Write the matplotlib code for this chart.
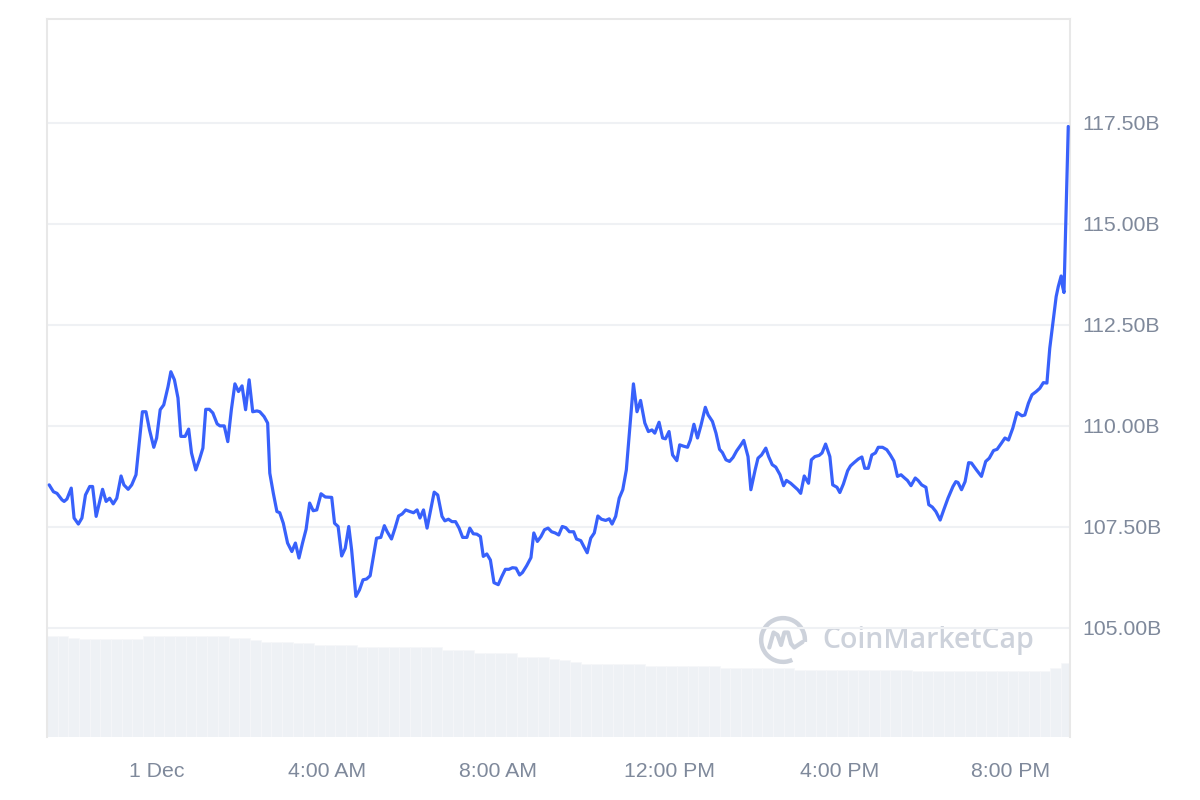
import matplotlib
matplotlib.use("Agg")
import matplotlib.pyplot as plt
import matplotlib.dates as mdates
from matplotlib.patches import Arc
import pandas as pd

# price readings: minutes from 1 Dec 00:00, market cap in billions
minutes = [
    -151, -145, -140, -133, -130, -126, -120, -116, -110, -105,
    -100, -94, -90, -85, -80, -76, -71, -66, -61, -56,
    -50, -46, -40, -35, -29, -25, -20, -15, -10, -4,
    0, 5, 10, 16, 20, 25, 30, 34, 40, 45,
    49, 55, 60, 65, 69, 74, 79, 85, 89, 95,
    100, 105, 110, 115, 120, 125, 130, 135, 141, 145,
    151, 156, 159, 164, 169, 173, 178, 184, 190, 195,
    200, 205, 210, 215, 220, 225, 231, 237, 246, 250,
    255, 260, 265, 270, 274, 280,
    285, 290, 295, 300, 305, 309, 315, 320, 324, 330,
    335, 340, 345, 350, 356, 361, 366, 370, 375, 380,
    385, 390, 395, 401, 405, 410, 415, 420, 425, 430,
    436, 440, 445, 450, 455, 459, 464, 469, 474, 480,
    485, 490, 495, 500, 505, 510, 514, 520, 526, 530,
    535, 540, 545, 550, 555, 560, 565, 570, 575, 580,
    586, 590, 596, 601, 605, 610, 615, 620, 625, 631,
    636, 640, 645, 650, 655, 660, 665, 670, 675, 680,
    686, 691, 696, 700, 706, 711, 715, 720, 725, 731,
    735, 740, 746, 750, 755, 760, 765, 771, 775, 781,
    786, 791, 795, 800, 805, 810, 815, 821, 825, 831,
    835, 841, 845, 850, 856, 860, 865, 870, 876, 881,
    885, 891, 896, 901, 905, 910, 916, 920, 925, 931,
    935, 940, 946, 950, 956, 960, 965, 971, 975, 980,
    986, 991, 995, 1000, 1005, 1010, 1014, 1020, 1026, 1031,
    1036, 1041, 1046, 1051, 1055, 1060, 1066, 1070, 1075, 1081,
    1085, 1090, 1095, 1101,
    1106, 1112, 1119, 1123, 1126, 1131, 1136, 1141, 1145, 1152,
    1159, 1165, 1170, 1176, 1181, 1187, 1192, 1197, 1203, 1209,
    1216, 1220, 1225, 1230, 1236, 1241, 1246, 1251, 1255, 1260,
    1264, 1267, 1271, 1273, 1275, 1279, 1281,
]
market_cap = [
    108.54, 108.37, 108.33, 108.17, 108.13, 108.19, 108.46, 107.72, 107.57, 107.72,
    108.29, 108.50, 108.50, 107.76, 108.13, 108.43, 108.13, 108.21, 108.07, 108.21,
    108.76, 108.54, 108.43, 108.54, 108.79, 109.49, 110.35, 110.35, 109.90, 109.47,
    109.70, 110.40, 110.52, 110.97, 111.34, 111.14, 110.69, 109.74, 109.74, 109.92,
    109.33, 108.91, 109.16, 109.45, 110.41, 110.41, 110.32, 110.05, 110.00, 110.00,
    109.61, 110.40, 111.04, 110.85, 110.99, 110.40, 111.14, 110.35, 110.37, 110.35,
    110.23, 110.07, 108.83, 108.33, 107.88, 107.85, 107.59, 107.10, 106.89, 107.10,
    106.73, 107.10, 107.44, 108.09, 107.90, 107.92, 108.32, 108.24, 108.23, 107.59,
    107.51, 106.78, 106.97, 107.51, 106.93, 105.78,
    105.94, 106.19, 106.21, 106.29, 106.81, 107.22, 107.24, 107.53, 107.38, 107.20,
    107.47, 107.77, 107.82, 107.92, 107.88, 107.85, 107.92, 107.72, 107.92, 107.47,
    107.92, 108.36, 108.29, 107.76, 107.65, 107.69, 107.63, 107.63, 107.47, 107.24,
    107.24, 107.47, 107.33, 107.32, 107.26, 106.77, 106.83, 106.68, 106.12, 106.07,
    106.27, 106.45, 106.45, 106.49, 106.48, 106.31, 106.37, 106.54, 106.74, 107.35,
    107.14, 107.26, 107.43, 107.47, 107.38, 107.35, 107.30, 107.51, 107.48, 107.38,
    107.38, 107.20, 107.16, 106.99, 106.86, 107.22, 107.35, 107.77, 107.69, 107.66,
    107.70, 107.57, 107.76, 108.21, 108.42, 108.91, 109.98, 111.04, 110.35, 110.63,
    110.07, 109.86, 109.90, 109.82, 110.09, 109.70, 109.68, 109.86, 109.28, 109.14,
    109.53, 109.50, 109.47, 109.65, 110.04, 109.70, 110.02, 110.46, 110.27, 110.11,
    109.82, 109.42, 109.34, 109.16, 109.12, 109.22, 109.38, 109.53, 109.64, 109.24,
    108.42, 108.91, 109.20, 109.28, 109.45, 109.24, 109.04, 108.98, 108.79, 108.52,
    108.65, 108.58, 108.50, 108.42, 108.33, 108.76, 108.58, 109.16, 109.24, 109.27,
    109.33, 109.55, 109.24, 108.54, 108.48, 108.35, 108.56, 108.89, 109.01, 109.09,
    109.18, 109.23, 108.95, 108.95, 109.28, 109.33, 109.47, 109.47, 109.41, 109.28,
    109.13, 108.75, 108.79, 108.71, 108.65, 108.52, 108.71, 108.65, 108.54, 108.48,
    108.05, 107.99, 107.88, 107.67,
    107.92, 108.21, 108.50, 108.62, 108.60, 108.42, 108.62, 109.09, 109.08, 108.91,
    108.75, 109.12, 109.20, 109.39, 109.42, 109.57, 109.70, 109.65, 109.94, 110.33,
    110.25, 110.27, 110.56, 110.77, 110.85, 110.93, 111.07, 111.06, 111.92, 112.62,
    113.20, 113.45, 113.71, 113.45, 113.30, 116.01, 117.41,
]

# volume, one bar per 15 minutes (relative units)
volume = [
    5.05, 5.05, 4.95, 4.93, 4.93, 4.93, 4.93, 4.93, 4.93, 5.05,
    5.05, 5.05, 5.05, 5.05, 5.05, 5.05, 5.05, 4.95, 4.95, 4.85,
    4.77, 4.77, 4.77, 4.72, 4.72, 4.63, 4.63, 4.63, 4.63, 4.52,
    4.52, 4.52, 4.52, 4.52, 4.52, 4.52, 4.52, 4.38, 4.38, 4.38,
    4.22, 4.22, 4.22, 4.22, 4.02, 4.02, 4.02, 3.92, 3.85, 3.75,
    3.65, 3.65, 3.65, 3.65, 3.65, 3.65, 3.55, 3.55, 3.55, 3.55,
    3.55, 3.55, 3.55, 3.45, 3.45, 3.45, 3.45, 3.45, 3.45, 3.45,
    3.35, 3.35, 3.35, 3.35, 3.35, 3.35, 3.35, 3.35, 3.35, 3.35,
    3.35, 3.32, 3.32, 3.32, 3.32, 3.32, 3.32, 3.32, 3.32, 3.32,
    3.32, 3.32, 3.32, 3.32, 3.45, 3.70,
]

y_ticks = [105.0, 107.5, 110.0, 112.5, 115.0, 117.5]

midnight = pd.Timestamp("2023-12-01 00:00")
times = midnight + pd.to_timedelta(minutes, unit="min")
vol_times = pd.date_range(midnight - pd.Timedelta(minutes=154), periods=len(volume), freq="15min")

fig = plt.figure(figsize=(12, 8), dpi=100)
ax = fig.add_axes([0.0392, 0.07875, 0.8525, 0.8975])

# volume bars on their own scale behind the price line
vax = ax.twinx()
vax.bar(vol_times + pd.Timedelta(minutes=7.5), volume, width=15 / 1440,
        color="#eef1f5", edgecolor="#f6f7f9", linewidth=0.5, zorder=1)
vax.set_ylim(0, 36)
vax.axis("off")
ax.set_zorder(vax.get_zorder() + 1)
ax.patch.set_visible(False)

ax.plot(times, market_cap, color="#3861fb", linewidth=2.3,
        solid_joinstyle="round", solid_capstyle="round", zorder=3)

ax.set_ylim(102.3, 120.07)
ax.set_xlim(midnight - pd.Timedelta(minutes=154), midnight + pd.Timedelta(minutes=1283.5))

ax.set_yticks(y_ticks)
ax.set_yticklabels([f"{v:.2f}B" for v in y_ticks])
ax.yaxis.tick_right()
ax.grid(axis="y", color="#eff1f4", linewidth=1.5)
ax.grid(axis="x", visible=False)
ax.set_axisbelow(True)

ax.xaxis.set_major_locator(mdates.HourLocator(byhour=[0, 4, 8, 12, 16, 20]))


def fmt_time(x, pos=None):
    t = mdates.num2date(x)
    if t.hour == 0:
        return f"{t.day} Dec"
    h = t.hour % 12 or 12
    return f"{h}:{t.minute:02d} {'AM' if t.hour < 12 else 'PM'}"


ax.xaxis.set_major_formatter(plt.FuncFormatter(fmt_time))

ax.tick_params(axis="both", length=0, labelsize=15.3, labelcolor="#7f899b")
ax.tick_params(axis="y", pad=9)
ax.tick_params(axis="x", pad=18)
for lab in ax.get_xticklabels() + ax.get_yticklabels():
    lab.set_fontfamily("Liberation Sans")

for side in ["top", "left", "right"]:
    ax.spines[side].set_color("#e8e8e8")
    ax.spines[side].set_linewidth(1.5)
ax.spines["bottom"].set_visible(False)

# watermark
fig.text(0.685, 0.199, "CoinMarketCap", fontsize=20.5, fontweight="semibold",
         family="Open Sans", color="#cdd2db", va="center", ha="left", zorder=0)
lax = fig.add_axes([0.6317, 0.16875, 0.04167, 0.0625])
lax.set_xlim(-1, 1)
lax.set_ylim(-1, 1)
lax.axis("off")
lax.add_patch(Arc((0, 0), 1.75, 1.75, theta1=-5, theta2=295, color="#cdd2db", linewidth=3.2))
lax.plot([-0.55, -0.38, -0.22, -0.08, 0.05, 0.2, 0.32, 0.45, 0.6, 0.78],
         [-0.3, 0.3, 0.2, -0.2, 0.3, 0.3, -0.15, -0.3, -0.2, -0.08],
         color="#cdd2db", linewidth=3.0, solid_joinstyle="round", solid_capstyle="round")

fig.savefig("out.png", dpi=100)
